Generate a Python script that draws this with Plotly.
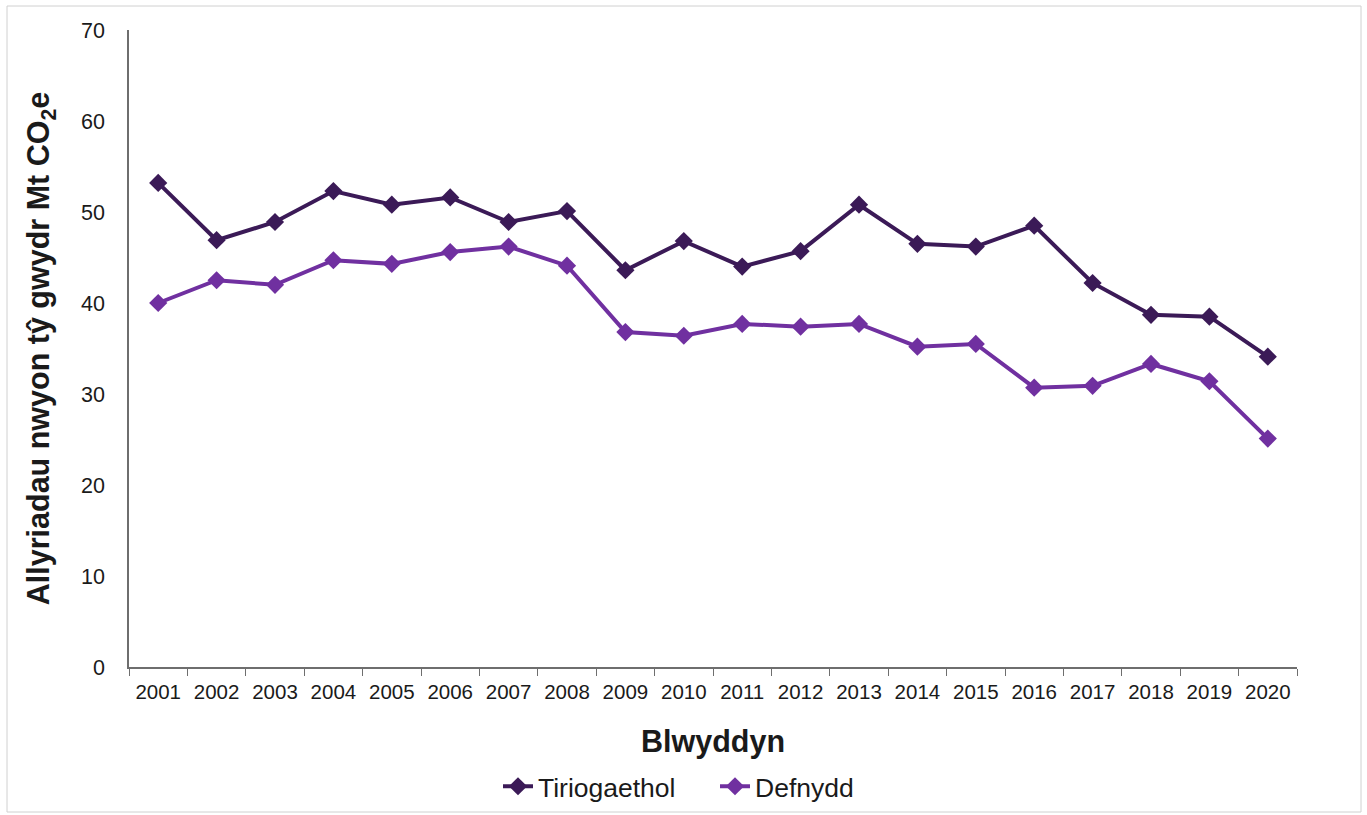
import plotly.graph_objects as go

years = [str(y) for y in range(2001, 2021)]
tiriogaethol = [53.2, 46.9, 48.9, 52.3, 50.8, 51.6, 48.9, 50.1, 43.6, 46.8,
                44.0, 45.7, 50.8, 46.5, 46.2, 48.5, 42.2, 38.7, 38.5, 34.1]
defnydd = [40.0, 42.5, 42.0, 44.7, 44.3, 45.6, 46.2, 44.1, 36.8, 36.4,
           37.7, 37.4, 37.7, 35.2, 35.5, 30.7, 30.9, 33.3, 31.4, 25.1]

dark = "#3B1A57"
light = "#7030A0"
font = "Liberation Sans, Arial, sans-serif"

fig = go.Figure()
fig.add_trace(go.Scatter(x=years, y=tiriogaethol, name="Tiriogaethol", mode="lines+markers",
                         line=dict(color=dark, width=4),
                         marker=dict(symbol="diamond", size=14, color=dark)))
fig.add_trace(go.Scatter(x=years, y=defnydd, name="Defnydd", mode="lines+markers",
                         line=dict(color=light, width=4),
                         marker=dict(symbol="diamond", size=14, color=light)))

W, H = 1367, 815
l, r, t, b = 129, 70, 30, 148
pw, ph = W - l - r, H - t - b

fig.update_layout(
    width=W, height=H,
    margin=dict(l=l, r=r, t=t, b=b, autoexpand=False),
    paper_bgcolor="white", plot_bgcolor="white",
    font=dict(family=font, size=21, color="#1a1a1a"),
    showlegend=True,
    legend=dict(orientation="h", x=(498 - l) / pw, xanchor="left", y=-0.15, yanchor="top",
                entrywidth=172, entrywidthmode="pixels",
                font=dict(size=26.5, family=font)),
    xaxis=dict(type="category", range=[-0.5, len(years) - 0.5],
               tickson="boundaries", ticks="outside", ticklen=7, tickangle=0,
               ticklabelstandoff=6,
               tickcolor="#6e6e6e", showline=True, linecolor="#6e6e6e", linewidth=1.5,
               showgrid=False, tickfont=dict(size=20.5), automargin=False,
               title=dict(text="<b>Blwyddyn</b>", font=dict(size=30.5), standoff=28)),
    yaxis=dict(range=[0, 70], dtick=10, showline=True, linecolor="#6e6e6e", linewidth=1.5,
               showgrid=False, zeroline=False, ticks="", ticklabelstandoff=18,
               tickfont=dict(size=21.5), automargin=False,
               title=dict(text="<b>Allyriadau nwyon tŷ gwydr Mt CO<sub>2</sub>e</b>",
                          font=dict(size=30.5), standoff=22)),
)

fig.add_shape(type="rect", xref="paper", yref="paper",
              x0=(7 - l) / pw, x1=(1361 - l) / pw,
              y0=(H - b - 812) / ph, y1=(H - b - 6) / ph,
              line=dict(color="#d0d0d0", width=1))

fig.write_html("out.html", config={"displayModeBar": False},
               post_script="document.body.style.margin='0';document.body.style.overflow='hidden';")
